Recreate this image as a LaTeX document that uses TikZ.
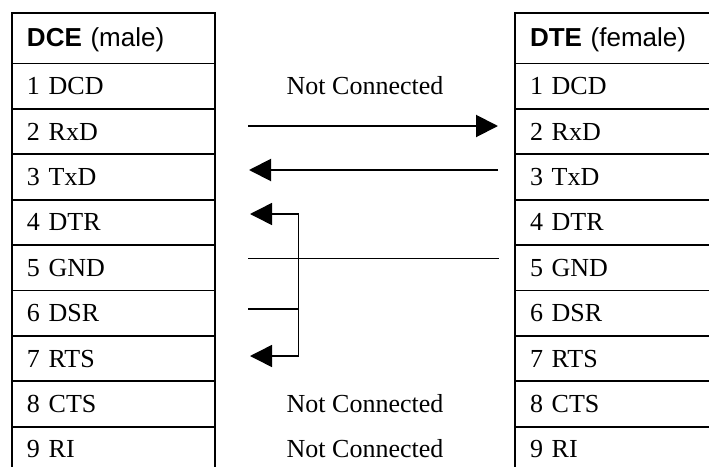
\documentclass[tikz,border=0pt]{standalone}
\usepackage{fontspec}
\setmainfont{Liberation Serif}
\newfontfamily\headfont{Liberation Sans}
\usetikzlibrary{arrows.meta}

\begin{document}
\begin{tikzpicture}[x=1pt,y=-1pt,
        >={Triangle[length=22pt,width=22pt]},
        cell/.style={draw,line width=1.8pt,minimum height=45.4pt,text width=173pt,
            inner xsep=15pt,inner ysep=0pt,align=left,text height=17pt,text depth=0pt,
            font=\fontsize{26}{30}\selectfont},
        head/.style={cell,minimum height=50.5pt,font=\headfont\fontsize{26}{30}\selectfont},
        nc/.style={text height=17pt,text depth=0pt,inner sep=0pt,font=\fontsize{26}{30}\selectfont},
        wire/.style={line width=1.5pt},
        thin wire/.style={line width=1pt}]
    \clip (0,0) rectangle (709,466);

    % the two connectors
    \node[head] (dce0) at (113.5,38.25) {\textbf{DCE} (male)};
    \node[head] (dte0) at (616.5,38.25) {\textbf{DTE} (female)};
    \foreach \i/\sig in {1/DCD,2/RxD,3/TxD,4/DTR,5/GND,6/DSR,7/RTS,8/CTS,9/RI} {
        \node[cell] (dce\i) at (113.5,{40.8+45.4*\i}) {\i~\sig};
        \node[cell] (dte\i) at (616.5,{40.8+45.4*\i}) {\i~\sig};
    }

    \node[nc] (nc1) at (365,86.2) {Not Connected};
    \node[nc] (nc8) at (365,404) {Not Connected};
    \node[nc] (nc9) at (365,449.4) {Not Connected};

    % wiring
    \coordinate (rxdA) at (248,126);
    \coordinate (rxdB) at (498,126);
    \coordinate (txdA) at (498,170);
    \coordinate (txdB) at (249,170);
    \coordinate (gndA) at (248,258);
    \coordinate (gndB) at (499,258);
    \coordinate (dtr) at (250,214);
    \coordinate (rts) at (250,356);
    \coordinate (dsr) at (248,309);
    \coordinate (loopT) at (298.7,214);
    \coordinate (loopB) at (298.7,356);

    \draw[wire,line width=2pt,->] (rxdA) -- (rxdB);
    \draw[wire,line width=2pt,->] (txdA) -- (txdB);
    \draw[thin wire] (gndA) -- (gndB);
    \draw[wire,<->] (dtr) -- (loopT) -- (loopB) -- (rts);
    \draw[wire] (dsr) -- (dsr -| loopT);
\end{tikzpicture}
\end{document}
